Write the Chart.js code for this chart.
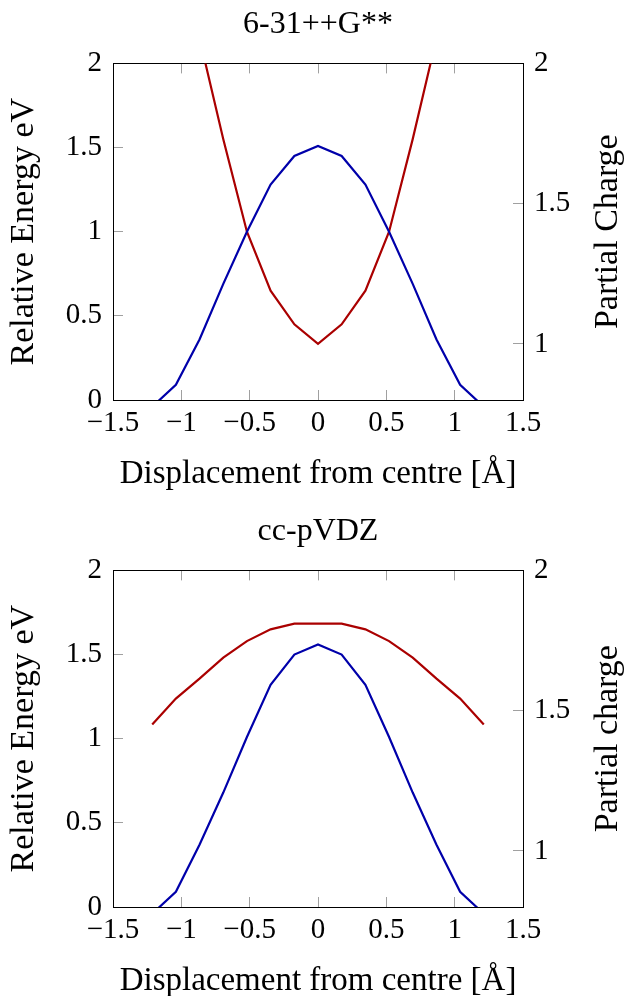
<!DOCTYPE html>
<html>
<head>
<meta charset="utf-8">
<script src="https://cdn.jsdelivr.net/npm/chart.js@4.4.1/dist/chart.umd.min.js"></script>
<style>
  html, body { margin: 0; padding: 0; background: #fff; overflow: hidden; }
  .panel { position: absolute; left: 0; width: 625px; height: 505px; }
</style>
</head>
<body>
<div class="panel" style="top:0"><canvas id="chart631" width="625" height="505"></canvas></div>
<div class="panel" style="top:507px"><canvas id="chartCC" width="625" height="505"></canvas></div>
<script>
// displacement from centre (Å)
const displacement = [-1.213, -1.040, -0.867, -0.693, -0.520, -0.347, -0.173, 0, 0.173, 0.347, 0.520, 0.693, 0.867, 1.040, 1.213];

// 6-31++G**
const energy631 = [-0.04, 0.09, 0.36, 0.69, 1.00, 1.28, 1.45, 1.51, 1.45, 1.28, 1.00, 0.69, 0.36, 0.09, -0.04];
const charge631 = [2.80, 2.45, 2.09, 1.73, 1.40, 1.19, 1.07, 1.00, 1.07, 1.19, 1.40, 1.73, 2.09, 2.45, 2.80];

// cc-pVDZ
const energyCC = [-0.04, 0.09, 0.37, 0.68, 1.01, 1.32, 1.50, 1.56, 1.50, 1.32, 1.01, 0.68, 0.37, 0.09, -0.04];
const chargeCC = [1.451, 1.543, 1.614, 1.689, 1.748, 1.790, 1.810, 1.810, 1.810, 1.790, 1.748, 1.689, 1.614, 1.543, 1.451];

const xTicks = [-1.5, -1, -0.5, 0, 0.5, 1, 1.5];
const energyTicks = [0, 0.5, 1, 1.5, 2];
const chargeTicks = [1, 1.5, 2];

const FONT = "'Liberation Serif', 'Times New Roman', serif";
const BLUE = '#0000aa';
const RED = '#aa0000';
const TICK_GREY = '#a0a0a0';

const fmt = v => v < 0 ? '\u2212' + Math.abs(v) : String(v);
const pts = ys => displacement.map((x, i) => ({ x, y: ys[i] }));
const setTicks = list => scale => { scale.ticks = list.map(v => ({ value: v })); };

const inwardGrid = { drawOnChartArea: false, drawTicks: true, tickLength: -10, color: TICK_GREY, tickColor: TICK_GREY, lineWidth: 1 };
const frame = { color: '#000', width: 1 };

// rotated title on the right axis, reading upwards like the left one
const rightTitle = {
  id: 'rightTitle',
  afterDraw(chart, args, opts) {
    const { ctx, chartArea } = chart;
    const sc = chart.scales.y2;
    ctx.save();
    ctx.translate(sc.right - opts.offset, (chartArea.top + chartArea.bottom) / 2);
    ctx.rotate(-Math.PI / 2);
    ctx.font = opts.size + 'px ' + FONT;
    ctx.fillStyle = '#000';
    ctx.textAlign = 'center';
    ctx.textBaseline = 'middle';
    ctx.fillText(opts.text, 0, 0);
    ctx.restore();
  }
};

function makePanel(id, title, energy, charge, chargeLabel) {
  return new Chart(document.getElementById(id), {
    type: 'line',
    data: {
      datasets: [
        { data: pts(energy), yAxisID: 'y', borderColor: BLUE, borderWidth: 2.2, pointRadius: 0, tension: 0, clip: 0 },
        { data: pts(charge), yAxisID: 'y2', borderColor: RED, borderWidth: 2.2, pointRadius: 0, tension: 0, clip: 0 }
      ]
    },
    options: {
      responsive: false,
      animation: false,
      devicePixelRatio: 1,
      layout: { padding: 0 },
      plugins: {
        legend: { display: false },
        tooltip: { enabled: false },
        title: {
          display: true, text: title, fullSize: false, color: '#000',
          font: { family: FONT, size: 32, weight: 'normal' },
          padding: { top: 5, bottom: 20 }
        },
        rightTitle: { text: chargeLabel, offset: 17, size: 34 }
      },
      scales: {
        x: {
          type: 'linear', position: 'bottom', min: -1.5, max: 1.5,
          afterBuildTicks: setTicks(xTicks),
          afterFit: s => { s.height = 105; },
          ticks: { callback: fmt, color: '#000', font: { family: FONT, size: 29 }, padding: 16, maxRotation: 0, autoSkip: false },
          grid: inwardGrid, border: frame,
          title: { display: true, text: 'Displacement from centre [\u00c5]', color: '#000', font: { family: FONT, size: 33 }, padding: { top: 0, bottom: 11 } }
        },
        x2: {
          type: 'linear', axis: 'x', position: 'top', min: -1.5, max: 1.5,
          afterBuildTicks: setTicks(xTicks),
          afterFit: s => { s.height = 0; },
          ticks: { display: false },
          grid: inwardGrid, border: frame
        },
        y: {
          type: 'linear', position: 'left', min: 0, max: 2,
          afterBuildTicks: setTicks(energyTicks),
          afterFit: s => { s.width = 113; },
          ticks: { callback: fmt, color: '#000', font: { family: FONT, size: 29 }, padding: 21 },
          grid: inwardGrid, border: frame,
          title: { display: true, text: 'Relative Energy eV', color: '#000', font: { family: FONT, size: 34 }, padding: { top: 4, bottom: 0 } }
        },
        y2: {
          type: 'linear', position: 'right', min: 0.8, max: 2,
          afterBuildTicks: setTicks(chargeTicks),
          afterFit: s => { s.width = 102; },
          ticks: { callback: fmt, color: '#000', font: { family: FONT, size: 29 }, padding: 21 },
          grid: inwardGrid, border: frame
        }
      }
    },
    plugins: [rightTitle]
  });
}

makePanel('chart631', '6-31++G**', energy631, charge631, 'Partial Charge');
makePanel('chartCC', 'cc-pVDZ', energyCC, chargeCC, 'Partial charge');
</script>
</body>
</html>
